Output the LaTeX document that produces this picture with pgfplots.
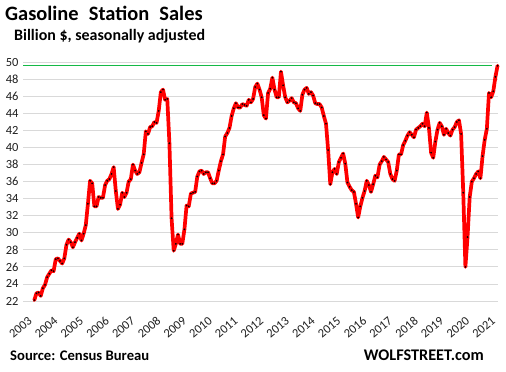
\documentclass[border=0pt]{standalone}
\usepackage{fontspec}
\setmainfont{Carlito}
\usepackage{pgfplots}
\pgfplotsset{compat=1.18}
\definecolor{gridgray}{RGB}{217,217,217}
\definecolor{exgreen}{RGB}{20,185,70}
\definecolor{labelcol}{RGB}{30,30,30}
\begin{document}
\begin{tikzpicture}
\useasboundingbox (0,0) rectangle (506bp,372bp);
\begin{axis}[
  at={(23bp,71bp)}, anchor=south west,
  scale only axis, width=475bp, height=238.7bp,
  xmin=-5.27, xmax=216.2, ymin=22, ymax=50,
  clip=false,
  axis line style={draw=none},
  major tick style={draw=none},
  ytick={22,24,...,50},
  ymajorgrids,
  grid style={color=gridgray, line width=0.9bp},
  xtick={0,12,...,216},
  xticklabels={2003,2004,2005,2006,2007,2008,2009,2010,2011,2012,2013,2014,2015,2016,2017,2018,2019,2020,2021},
  /pgf/number format/assume math mode=true,
  yticklabel style={font=\fontsize{12.5}{12.5}\selectfont, text=labelcol, xshift=-1bp},
  xticklabel style={font=\fontsize{12.5}{12.5}\selectfont, text=labelcol, xshift=-1.5bp, yshift=-16bp, rotate=40, anchor=east},
]
\addplot[color=exgreen, solid, no marks, line width=1.1bp] coordinates {(-5.27,49.6) (213.4,49.6)};
\addplot[color=red, line width=3.7bp, line join=round, line cap=round,
  mark=*, mark size=0.75bp, mark options={draw=black, fill=black, line width=0.2bp}]
  table[x=i, y=v] {
i v
0 22.1
1 22.9
2 23.0
3 22.6
4 23.5
5 23.9
6 24.8
7 25.2
8 25.6
9 25.5
10 26.9
11 27.0
12 26.7
13 26.4
14 27.0
15 28.6
16 29.2
17 28.9
18 28.3
19 28.9
20 29.4
21 29.9
22 29.1
23 29.9
24 30.9
25 33.4
26 36.1
27 35.8
28 33.1
29 33.1
30 34.2
31 34.1
32 34.1
33 35.6
34 36.1
35 36.3
36 36.9
37 37.7
38 34.9
39 32.8
40 33.3
41 34.7
42 34.2
43 34.7
44 36.0
45 36.3
46 38.0
47 37.3
48 36.9
49 37.1
50 38.2
51 39.2
52 41.9
53 41.6
54 42.4
55 42.5
56 43.0
57 42.9
58 44.3
59 46.5
60 46.8
61 45.6
62 45.7
63 40.5
64 31.7
65 27.9
66 28.7
67 29.8
68 28.7
69 28.7
70 30.4
71 33.2
72 33.1
73 34.6
74 34.7
75 34.8
76 36.6
77 37.2
78 37.3
79 36.9
80 37.1
81 37.1
82 36.4
83 35.8
84 35.8
85 36.1
86 37.3
87 38.4
88 39.2
89 41.3
90 41.7
91 42.3
92 43.7
93 44.6
94 45.2
95 44.7
96 44.7
97 45.1
98 45.0
99 44.9
100 45.6
101 45.3
102 45.7
103 47.1
104 47.5
105 46.8
106 45.9
107 43.8
108 43.4
109 46.4
110 46.9
111 48.2
112 46.8
113 45.9
114 45.9
115 48.9
116 47.3
117 45.9
118 45.3
119 45.5
120 45.8
121 45.3
122 45.2
123 44.6
124 44.3
125 46.2
126 46.8
127 47.0
128 46.3
129 46.5
130 46.1
131 45.2
132 45.1
133 45.1
134 44.7
135 43.7
136 42.8
137 39.7
138 35.7
139 37.1
140 37.5
141 36.9
142 38.3
143 38.8
144 39.3
145 38.1
146 35.9
147 35.4
148 35.0
149 34.8
150 33.4
151 31.8
152 33.1
153 34.1
154 34.9
155 36.1
156 35.6
157 34.8
158 35.7
159 36.7
160 36.5
161 38.0
162 38.4
163 38.9
164 38.6
165 38.3
166 36.9
167 36.3
168 36.1
169 37.3
170 39.2
171 39.2
172 40.3
173 40.8
174 41.4
175 41.8
176 41.5
177 41.2
178 42.1
179 42.3
180 42.5
181 42.8
182 42.5
183 44.1
184 42.3
185 39.4
186 38.8
187 40.7
188 42.1
189 42.9
190 42.5
191 41.5
192 42.2
193 41.7
194 41.4
195 42.1
196 42.4
197 43.0
198 43.2
199 41.6
200 34.7
201 26.0
202 29.5
203 34.2
204 36.0
205 36.4
206 36.9
207 37.2
208 36.4
209 39.0
210 40.9
211 42.2
212 46.4
213 45.9
214 46.6
215 48.3
216 49.6
};
\end{axis}
\node[anchor=base west, inner sep=0, font=\fontsize{20.5}{20.5}\selectfont\bfseries] at (5bp,351.3bp) {Gasoline\hspace{0.5em}Station\hspace{0.5em}Sales};
\node[anchor=base west, inner sep=0, font=\fontsize{16}{16}\selectfont\bfseries] at (14bp,331.3bp) {Billion \$, seasonally adjusted};
\node[anchor=base west, inner sep=0, font=\fontsize{14.7}{14.7}\selectfont\bfseries] at (10bp,12bp) {Source: Census Bureau};
\node[anchor=base east, inner sep=0, font=\fontsize{16.3}{16.3}\selectfont\bfseries] at (484bp,12bp) {WOLFSTREET.com};
\end{tikzpicture}
\end{document}
